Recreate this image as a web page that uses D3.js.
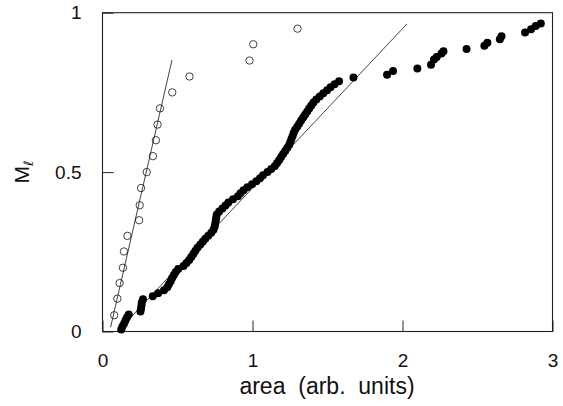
<!DOCTYPE html>
<html>
<head>
<meta charset="utf-8">
<script src="https://cdn.jsdelivr.net/npm/d3@7"></script>
<style>
html,body{margin:0;padding:0;background:#fff;}
svg{display:block;}
text{font-family:"Liberation Sans",Arial,Helvetica,sans-serif;fill:#111;}
</style>
</head>
<body>
<svg id="chart" width="563" height="406"></svg>
<script>
// ---- data ----
const xTicks = [0, 1, 2, 3];
const xTickLabels = ["0", "1", "2", "3"];
const yTicks = [0, 0.5, 1];
const yTickLabels = ["0", "0.5", "1"];
const xLabel = "area  (arb.  units)";

// open circles: area and M
const openArea = [0.078,0.099,0.114,0.136,0.143,0.166,0.244,0.248,0.257,0.295,0.336,0.356,0.367,0.383,0.465,0.58,0.98,1.005,1.30];
const openM    = [0.051,0.103,0.152,0.200,0.251,0.300,0.349,0.396,0.450,0.500,0.550,0.600,0.649,0.700,0.750,0.800,0.850,0.901,0.950];

// filled dots: area and M
const filledArea = [
 0.125,0.133,0.144,0.153,0.163,0.175,0.253,0.257,0.260,0.262,
 0.270,0.335,0.371,0.410,0.432,0.443,0.455,0.464,0.476,0.488,
 0.505,0.540,0.560,0.578,0.592,0.606,0.619,0.633,0.651,0.668,
 0.685,0.705,0.725,0.740,0.748,0.752,0.755,0.758,0.762,0.778,
 0.799,0.820,0.839,0.870,0.903,0.920,0.940,0.966,0.997,1.026,
 1.050,1.070,1.100,1.125,1.149,1.164,1.178,1.191,1.204,1.218,
 1.232,1.245,1.253,1.260,1.268,1.275,1.284,1.298,1.311,1.324,
 1.338,1.351,1.365,1.378,1.392,1.406,1.425,1.448,1.472,1.497,
 1.520,1.547,1.577,
 1.673,1.897,1.937,2.099,2.190,2.210,2.228,2.260,2.273,2.427,
 2.546,2.566,2.649,2.660,2.817,2.857,2.888,2.922];
const filledM = [
 0.006,0.0155,0.025,0.0345,0.044,0.0535,0.063,0.0725,0.082,0.0915,
 0.101,0.1105,0.120,0.1295,0.139,0.1485,0.158,0.1675,0.177,0.1865,
 0.196,0.2055,0.215,0.2245,0.234,0.2435,0.253,0.2625,0.272,0.2815,
 0.291,0.3005,0.310,0.3195,0.329,0.3385,0.348,0.3575,0.367,0.3765,
 0.386,0.3955,0.405,0.4145,0.424,0.4335,0.443,0.4525,0.462,0.4715,
 0.481,0.4905,0.500,0.5095,0.519,0.5285,0.538,0.5475,0.557,0.5665,
 0.576,0.5855,0.595,0.6045,0.614,0.6235,0.633,0.6425,0.652,0.6615,
 0.671,0.6805,0.690,0.6995,0.709,0.7185,0.728,0.7375,0.747,0.7565,
 0.766,0.7755,0.785,
 0.797,0.805,0.817,0.825,0.837,0.853,0.861,0.872,0.879,0.886,
 0.896,0.906,0.917,0.926,0.938,0.948,0.958,0.966];

// fitted straight lines (end points)
const openFitArea = [0.054, 0.463];
const openFitM    = [0.0135, 0.851];
const filledFitArea = [0.10, 2.03];
const filledFitM    = [0.0, 0.965];

// ---- drawing ----
const svg = d3.select("#chart");
const plotL = 102.5, plotR = 552.5, plotT = 12.7, plotB = 331.5;
const x = d3.scaleLinear().domain([0, 3]).range([plotL, plotR]);
const y = d3.scaleLinear().domain([0, 1]).range([plotB, plotT]);

// frame
svg.append("rect")
  .attr("x", plotL).attr("y", plotT)
  .attr("width", plotR - plotL).attr("height", plotB - plotT)
  .attr("fill", "none").attr("stroke", "#222").attr("stroke-width", 1.1);

// axes (inward ticks)
const xAxis = d3.axisBottom(x).tickValues(xTicks)
  .tickFormat((d, i) => xTickLabels[i]).tickSize(-11).tickPadding(22);
const gx = svg.append("g").attr("transform", `translate(0,${plotB})`).call(xAxis);
gx.select(".domain").remove();
gx.selectAll("line").attr("stroke", "#222").attr("stroke-width", 1);
gx.selectAll("text").attr("font-size", 19).attr("fill", "#111")
  .attr("font-family", '"Liberation Sans", Arial, sans-serif');

const yAxis = d3.axisLeft(y).tickValues(yTicks)
  .tickFormat((d, i) => yTickLabels[i]).tickSize(-11).tickPadding(21);
const gy = svg.append("g").attr("transform", `translate(${plotL},0)`).call(yAxis);
gy.select(".domain").remove();
gy.selectAll("line").attr("stroke", "#222").attr("stroke-width", 1);
gy.selectAll("text").attr("font-size", 19).attr("fill", "#111")
  .attr("font-family", '"Liberation Sans", Arial, sans-serif');

// axis labels
svg.append("text")
  .attr("x", 327).attr("y", 394)
  .attr("text-anchor", "middle").attr("font-size", 23)
  .attr("xml:space", "preserve")
  .style("white-space", "pre")
  .text(xLabel);

const yl = svg.append("text")
  .attr("transform", "translate(29,172) rotate(-90)")
  .attr("text-anchor", "middle").attr("font-size", 21);
yl.append("tspan").text("M");
yl.append("tspan").attr("font-size", 13).attr("dy", "0.3em")
  .attr("font-family", '"DejaVu Sans", sans-serif').text("ℓ");

// fit lines
const line = d3.line().x(d => x(d[0])).y(d => y(d[1]));
svg.append("path")
  .datum(openFitArea.map((a, i) => [a, openFitM[i]]))
  .attr("d", line).attr("fill", "none").attr("stroke", "#111").attr("stroke-width", 0.8);
svg.append("path")
  .datum(filledFitArea.map((a, i) => [a, filledFitM[i]]))
  .attr("d", line).attr("fill", "none").attr("stroke", "#111").attr("stroke-width", 0.8);

// open circles
svg.append("g").selectAll("circle")
  .data(openArea.map((a, i) => [a, openM[i]]))
  .join("circle")
  .attr("cx", d => x(d[0])).attr("cy", d => y(d[1])).attr("r", 3.7)
  .attr("fill", "none").attr("stroke", "#111").attr("stroke-width", 0.8);

// filled dots
svg.append("g").selectAll("circle")
  .data(filledArea.map((a, i) => [a, filledM[i]]))
  .join("circle")
  .attr("cx", d => x(d[0])).attr("cy", d => y(d[1])).attr("r", 4)
  .attr("fill", "#000");
</script>
</body>
</html>
